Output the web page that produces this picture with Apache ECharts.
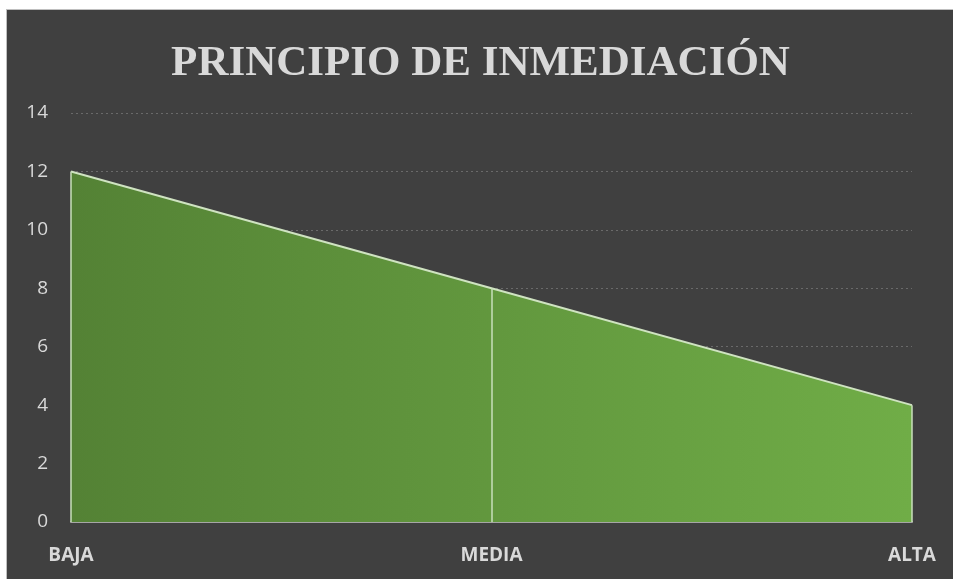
<!DOCTYPE html>
<html>
<head>
<meta charset="utf-8">
<title>PRINCIPIO DE INMEDIACIÓN</title>
<script src="https://cdn.jsdelivr.net/npm/echarts@6/dist/echarts.min.js"></script>
<style>
    html, body { margin: 0; padding: 0; background: #fff; overflow: hidden; }
    #main {
        position: absolute; left: 6px; top: 9px;
        width: 947px; height: 570px;
        border-top: 1px solid #bfbfbf; border-left: 1px solid #bfbfbf;
        background: #404040;
    }
</style>
</head>
<body>
<div id="main"></div>
<script>
    var categories = ['BAJA', 'MEDIA', 'ALTA'];
    var values = [12, 8, 4];
    var yTicks = [0, 2, 4, 6, 8, 10, 12, 14];

    var myChart = echarts.init(document.getElementById('main'));

    // líneas de proyección desde cada punto hasta el eje
    var dropLines = categories.map(function (c, i) {
        return [{ coord: [c, 0] }, { coord: [c, values[i]] }];
    });

    var option = {
        backgroundColor: '#404040',
        title: {
            text: 'PRINCIPIO DE INMEDIACIÓN',
            left: 'center',
            top: 27,
            padding: [5, 0, 5, 14],
            textStyle: {
                fontFamily: 'Liberation Serif',
                fontWeight: 'bold',
                fontSize: 43,
                color: '#d9d9d9'
            }
        },
        grid: { left: 64, right: 42, top: 103, bottom: 58 },
        xAxis: {
            type: 'category',
            data: categories,
            boundaryGap: false,
            axisLine: { lineStyle: { color: '#a6a6a6', width: 2 } },
            axisTick: { show: false },
            axisLabel: {
                color: '#d9d9d9',
                fontFamily: 'Open Sans',
                fontWeight: 'bold',
                fontSize: 19,
                margin: 24
            }
        },
        yAxis: {
            type: 'value',
            min: yTicks[0],
            max: yTicks[yTicks.length - 1],
            interval: 2,
            axisLine: { show: false },
            axisTick: { show: false },
            axisLabel: {
                color: '#d9d9d9',
                fontFamily: 'Open Sans',
                fontSize: 19,
                margin: 23
            },
            splitLine: { lineStyle: { color: '#6a6a6a', type: [2, 3], width: 1 } }
        },
        series: [{
            type: 'line',
            data: values,
            symbol: 'none',
            lineStyle: { color: '#cfe3c1', width: 2 },
            areaStyle: {
                opacity: 1,
                color: new echarts.graphic.LinearGradient(0, 0, 1, 0, [
                    { offset: 0, color: '#548235' },
                    { offset: 1, color: '#70ad47' }
                ])
            },
            markLine: {
                silent: true,
                symbol: 'none',
                label: { show: false },
                lineStyle: { color: '#c9dfbb', width: 1.5, type: 'solid' },
                data: dropLines
            },
            z: 3
        }]
    };

    myChart.setOption(option);
</script>
</body>
</html>
